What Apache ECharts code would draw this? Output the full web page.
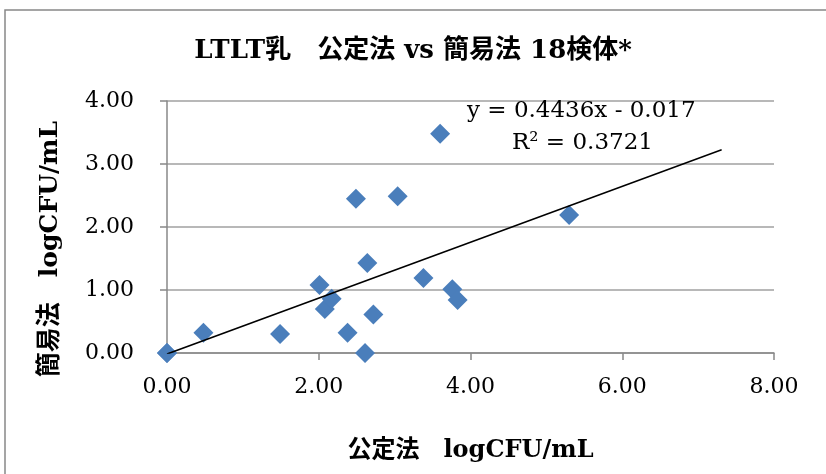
<!DOCTYPE html>
<html><head><meta charset="utf-8">
<script src="https://cdn.jsdelivr.net/npm/echarts@6/dist/echarts.min.js"></script>
<style>html,body{margin:0;padding:0;background:#fff}#c{width:826px;height:474px}</style>
</head><body><div id="c"></div>
<script>
const xValues = [0.00, 0.00, 0.48, 1.49, 2.01, 2.08, 2.17, 2.38, 2.49, 2.61, 2.64, 2.72, 3.04, 3.38, 3.60, 3.76, 3.83, 5.30];
const yValues = [0.00, 0.00, 0.32, 0.30, 1.08, 0.70, 0.86, 0.32, 2.45, 0.00, 1.43, 0.61, 2.49, 1.19, 3.48, 1.01, 0.84, 2.19];
const trendSlope = 0.4436;
const trendIntercept = -0.017;
const trendRange = [0, 7.31];
const titleText = 'LTLT乳　公定法 vs 簡易法 18検体*';
const xName = '公定法　logCFU/mL';
const yName = '簡易法　logCFU/mL';
const eqLines = ['y = 0.4436x - 0.017', 'R² = 0.3721'];

const pts = xValues.map((x, i) => [x, yValues[i]]);
const trend = trendRange.map(x => [x, trendSlope * x + trendIntercept]);
const serif = "'DejaVu Serif', 'Noto Sans CJK JP', serif";
const chart = echarts.init(document.getElementById('c'));
chart.setOption({
  animation: false,
  title: { text: titleText, left: 'center', top: 33,
    textStyle: { fontFamily: serif, fontSize: 26, fontWeight: 'bold', color: '#000' } },
  grid: { left: 167, right: 52, top: 101, bottom: 121 },
  xAxis: { type: 'value', min: 0, max: 8, interval: 2,
    name: xName, nameLocation: 'middle', nameGap: 86,
    nameTextStyle: { fontFamily: serif, fontSize: 24, fontWeight: 'bold', color: '#000' },
    axisLine: { show: true, lineStyle: { color: '#888', width: 1.5 } },
    axisTick: { show: true, length: 7, lineStyle: { color: '#888', width: 1.5 } },
    axisLabel: { formatter: v => v.toFixed(2), margin: 23, fontFamily: serif, fontSize: 22, color: '#000' },
    splitLine: { show: false } },
  yAxis: { type: 'value', min: 0, max: 4, interval: 1,
    name: yName, nameLocation: 'middle', nameGap: 104,
    nameTextStyle: { fontFamily: serif, fontSize: 25, fontWeight: 'bold', color: '#000', padding: [0, 44, 0, 0] },
    axisLine: { show: true, lineStyle: { color: '#888', width: 1.5 } },
    axisTick: { show: true, length: 7, lineStyle: { color: '#888', width: 1.5 } },
    axisLabel: { formatter: v => v.toFixed(2), margin: 33, fontFamily: serif, fontSize: 22, color: '#000' },
    splitLine: { show: true, lineStyle: { color: '#a0a0a0', width: 1.5 } } },
  graphic: [
    { type: 'rect', shape: { x: 5, y: 10, width: 840, height: 490 }, silent: true,
      style: { fill: 'none', stroke: '#888', lineWidth: 1.5 } },
    { type: 'text', left: 467, top: 100, z: 10,
      style: { text: eqLines[0], font: "23px 'DejaVu Serif', serif", fill: '#000' } },
    { type: 'text', left: 512, top: 132, z: 10,
      style: { text: eqLines[1], font: "23px 'DejaVu Serif', serif", fill: '#000' } }
  ],
  series: [
    { type: 'scatter', data: pts, symbol: 'diamond', symbolSize: 20,
      itemStyle: { color: '#4a7ebb', opacity: 1 }, z: 3 },
    { type: 'line', data: trend, symbol: 'none', z: 4,
      lineStyle: { color: '#000', width: 1.5 } }
  ]
});
</script></body></html>
